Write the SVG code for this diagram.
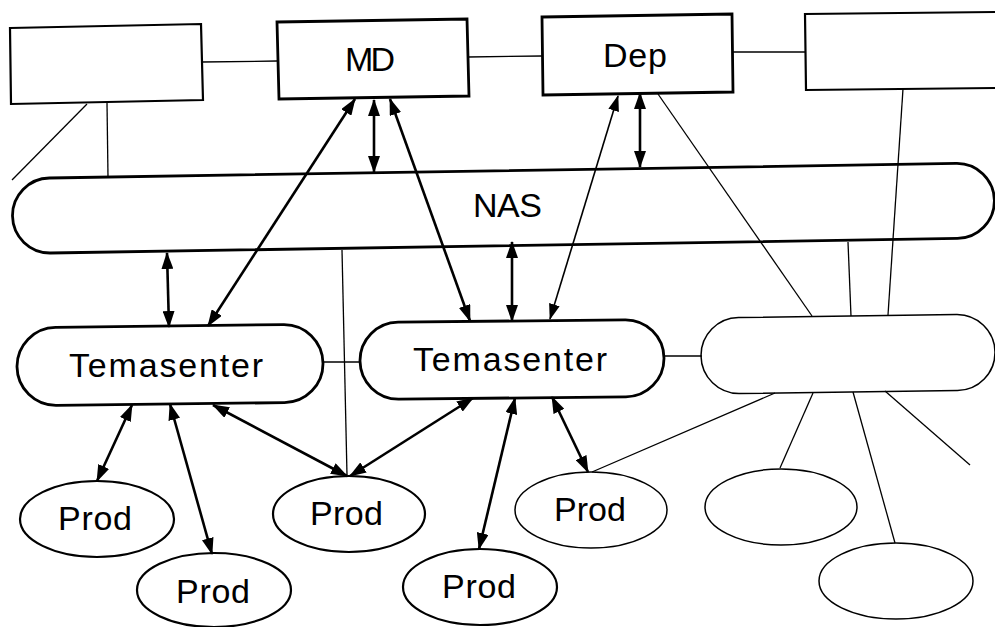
<svg xmlns="http://www.w3.org/2000/svg" width="995" height="627" viewBox="0 0 995 627">
<style>
.bg{fill:#fff}
.n{fill:#fff;stroke:#000}
.thick{stroke-width:2.8}
.med{stroke-width:2.2}
.thin{stroke-width:1.5}
.ln{stroke:#000;stroke-width:1.3;fill:none}
.ar{stroke:#000;stroke-width:2.6;fill:none;marker-start:url(#ah);marker-end:url(#ah)}
.ars{stroke:#000;stroke-width:1.6;fill:none;marker-start:url(#ahs);marker-end:url(#ahs)}
text{font-family:"Liberation Sans",Arial,Helvetica,sans-serif;font-size:34px;fill:#000}
</style>
<defs>
<marker id="ah" viewBox="0 0 17 12" refX="16" refY="6" markerWidth="17" markerHeight="12" markerUnits="userSpaceOnUse" orient="auto-start-reverse">
<path d="M0,0 L17,6 L0,12 z" fill="#000"/>
</marker>
<marker id="ahs" viewBox="0 0 16 11" refX="15" refY="5.5" markerWidth="16" markerHeight="11" markerUnits="userSpaceOnUse" orient="auto-start-reverse">
<path d="M0,0 L16,5.5 L0,11 z" fill="#000"/>
</marker>
</defs>
<rect class="bg" x="0" y="0" width="995" height="627"/>
<g id="node-nas">
<rect class="n thick" x="12.5" y="178" width="982" height="75" rx="37.5" transform="rotate(-0.92 50 215.5)"/>
<text x="473" y="217" textLength="69" lengthAdjust="spacing">NAS</text>
</g>
<g id="node-topleft">
<polygon class="n med" points="10,28 201,24 203,100 11,104"/>
</g>
<g id="node-md">
<polygon class="n thick" points="277,22 467,19 469,96 279,99"/>
<text x="345" y="71" textLength="50" lengthAdjust="spacing">MD</text>
</g>
<g id="node-dep">
<polygon class="n thick" points="542,17 732,14 733,92 543,95"/>
<text x="603" y="67" textLength="64" lengthAdjust="spacing">Dep</text>
</g>
<g id="node-topright">
<polyline class="n med" points="995,12 805,14 806,90 995,88"/>
</g>
<g id="node-temasenter1">
<rect class="n thick" x="17" y="326" width="306" height="78" rx="39" transform="rotate(-0.7 170 365)"/>
<text x="69" y="377" textLength="194" lengthAdjust="spacing">Temasenter</text>
</g>
<g id="node-temasenter2">
<rect class="n thick" x="360" y="321" width="304" height="77" rx="38.5" transform="rotate(-0.6 512 360)"/>
<text x="413" y="371" textLength="194" lengthAdjust="spacing">Temasenter</text>
</g>
<g id="node-rightpill">
<rect class="n thin" x="701" y="316" width="294" height="76" rx="38" transform="rotate(-0.8 848 354)"/>
</g>
<g id="node-prod1">
<ellipse class="n med" cx="97" cy="519" rx="77" ry="38"/>
<text x="58" y="530" textLength="74" lengthAdjust="spacing">Prod</text>
</g>
<g id="node-prod2">
<ellipse class="n med" cx="214" cy="590" rx="77" ry="37"/>
<text x="176" y="603" textLength="74" lengthAdjust="spacing">Prod</text>
</g>
<g id="node-prod3">
<ellipse class="n med" cx="349" cy="514" rx="76" ry="38"/>
<text x="310" y="525" textLength="73" lengthAdjust="spacing">Prod</text>
</g>
<g id="node-prod4">
<ellipse class="n med" cx="480" cy="587" rx="77" ry="38"/>
<text x="442" y="598" textLength="74" lengthAdjust="spacing">Prod</text>
</g>
<g id="node-prod5">
<ellipse class="n thin" cx="591" cy="510" rx="76" ry="38"/>
<text x="554" y="521" textLength="72" lengthAdjust="spacing">Prod</text>
</g>
<g id="node-ellipse6">
<ellipse class="n thin" cx="781" cy="507" rx="76" ry="38"/>
</g>
<g id="node-ellipse7">
<ellipse class="n thin" cx="896" cy="581" rx="77" ry="38"/>
</g>
<g id="connectors">
<line class="ln" x1="202" y1="62" x2="277" y2="61"/>
<line class="ln" x1="468" y1="57" x2="542" y2="56"/>
<line class="ln" x1="733" y1="52" x2="805" y2="52"/>
<line class="ln" x1="87" y1="104" x2="12" y2="180"/>
<line class="ln" x1="107" y1="103" x2="108" y2="177"/>
<line class="ln" x1="342" y1="250" x2="347" y2="475"/>
<line class="ln" x1="658" y1="94" x2="812" y2="316"/>
<line class="ln" x1="903" y1="89" x2="888" y2="315"/>
<line class="ln" x1="848" y1="242" x2="851" y2="316"/>
<line class="ln" x1="323" y1="362" x2="360" y2="362"/>
<line class="ln" x1="664" y1="356" x2="702" y2="356"/>
<line class="ln" x1="775" y1="393" x2="592" y2="472"/>
<line class="ln" x1="813" y1="393" x2="780" y2="468"/>
<line class="ln" x1="853" y1="392" x2="895" y2="543"/>
<line class="ln" x1="885" y1="391" x2="970" y2="465"/>
<line class="ar" x1="374" y1="100" x2="374" y2="172"/>
<line class="ar" x1="355" y1="99" x2="208" y2="326"/>
<line class="ar" x1="390" y1="99" x2="470" y2="321"/>
<line class="ar" x1="167" y1="253" x2="169" y2="327"/>
<line class="ar" x1="640" y1="93" x2="640" y2="167"/>
<line class="ars" x1="618" y1="96" x2="550" y2="319"/>
<line class="ar" x1="512" y1="242" x2="512" y2="321"/>
<line class="ar" x1="132" y1="405" x2="97" y2="481"/>
<line class="ar" x1="170" y1="404" x2="212" y2="554"/>
<line class="ar" x1="213" y1="405" x2="347" y2="476"/>
<line class="ar" x1="473" y1="398" x2="350" y2="476"/>
<line class="ar" x1="515" y1="398" x2="479" y2="549"/>
<line class="ar" x1="552" y1="397" x2="588" y2="472"/>
</g>
</svg>
